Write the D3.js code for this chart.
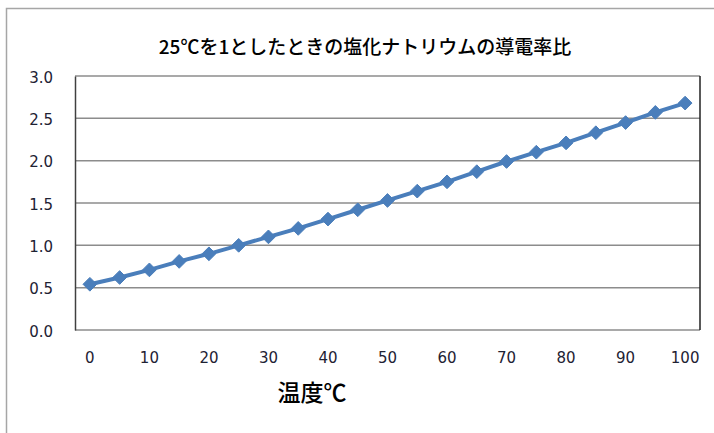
<!DOCTYPE html>
<html>
<head>
<meta charset="utf-8">
<script src="https://cdn.jsdelivr.net/npm/d3@7"></script>
<style>
  body { margin: 0; background: #fff; }
  .tick text { font-family: "DejaVu Sans", sans-serif; font-size: 15px; fill: #1e2233; }
</style>
</head>
<body>
<div id="chart-area"></div>
<script>
// 温度 (℃) と 25℃基準の導電率比
const temps = [0, 5, 10, 15, 20, 25, 30, 35, 40, 45, 50, 55, 60, 65, 70, 75, 80, 85, 90, 95, 100];
const ratios = [0.54, 0.62, 0.71, 0.81, 0.90, 1.00, 1.10, 1.20, 1.31, 1.42, 1.53, 1.64, 1.75, 1.87, 1.99, 2.10, 2.21, 2.33, 2.45, 2.57, 2.68];
const yTicks = [0, 0.5, 1.0, 1.5, 2.0, 2.5, 3.0];
const xTickLabels = [0, 10, 20, 30, 40, 50, 60, 70, 80, 90, 100];

const W = 714, H = 433;
const MARGIN = { LEFT: 75, RIGHT: 14, TOP: 76, BOTTOM: 103 };
const WIDTH = W - MARGIN.LEFT - MARGIN.RIGHT;
const HEIGHT = H - MARGIN.TOP - MARGIN.BOTTOM;
const data = temps.map((t, i) => ({ t: t, v: ratios[i] }));

const svg = d3.select("#chart-area").append("svg")
  .attr("width", W)
  .attr("height", H)

// chart frame (only left/top edges visible)
svg.append("rect")
  .attr("x", 6.5).attr("y", 8.5)
  .attr("width", 800).attr("height", 600)
  .attr("fill", "none")
  .attr("stroke", "#a6a6a6")
  .attr("stroke-width", 1.5)

svg.append("text")
  .attr("x", 365).attr("y", 54)
  .attr("text-anchor", "middle")
  .attr("font-family", "'Noto Sans CJK JP', sans-serif")
  .attr("font-size", 19)
  .attr("font-weight", 500)
  .attr("fill", "#000")
  .text("25℃を1としたときの塩化ナトリウムの導電率比")

const g = svg.append("g")
  .attr("transform", `translate(${MARGIN.LEFT}, ${MARGIN.TOP})`)

const x = d3.scaleBand()
  .domain(temps)
  .range([0, WIDTH])

const y = d3.scaleLinear()
  .domain([0, 3])
  .range([HEIGHT, 0])

// gridlines
g.append("g")
  .selectAll("line").data(yTicks)
  .enter().append("line")
    .attr("x1", 0).attr("x2", WIDTH)
    .attr("y1", d => y(d)).attr("y2", d => y(d))
    .attr("stroke", "#8c8c8c")
    .attr("stroke-width", 1.5)

// right edge of plot area
g.append("line")
  .attr("x1", WIDTH).attr("x2", WIDTH)
  .attr("y1", 0).attr("y2", HEIGHT)
  .attr("stroke", "#222")
  .attr("stroke-width", 1.5)

const leftAxis = d3.axisLeft(y)
  .tickValues(yTicks)
  .tickFormat(d3.format(".1f"))
  .tickSize(0)
  .tickPadding(22)
g.append("g")
  .attr("class", "left axis")
  .call(leftAxis)
  .call(a => a.select(".domain").attr("stroke", "#404040").attr("stroke-width", 1.5))
  .selectAll("text").attr("dy", "0.4em")

const bottomAxis = d3.axisBottom(x)
  .tickValues(xTickLabels)
  .tickSize(0)
  .tickPadding(22)
g.append("g")
  .attr("transform", `translate(0, ${HEIGHT})`)
  .call(bottomAxis)
  .call(a => a.select(".domain").remove())

svg.append("text")
  .attr("x", 312).attr("y", 401)
  .attr("text-anchor", "middle")
  .attr("font-family", "'Noto Sans CJK JP', sans-serif")
  .attr("font-size", 23)
  .attr("font-weight", 500)
  .attr("fill", "#000")
  .text("温度℃")

const cx = d => x(d.t) + x.bandwidth() / 2;

const line = d3.line()
  .x(cx)
  .y(d => y(d.v))

g.append("path")
  .datum(data)
  .attr("fill", "none")
  .attr("stroke", "#4a7ebb")
  .attr("stroke-width", 4)
  .attr("d", line)

const diamond = d3.symbol().type(d3.symbolDiamond2).size(120);
g.selectAll(".marker").data(data)
  .enter().append("path")
    .attr("class", "marker")
    .attr("transform", d => `translate(${cx(d)}, ${y(d.v)})`)
    .attr("d", diamond)
    .attr("fill", "#4a7ebb")
    .attr("stroke", "#4a7ebb")
    .attr("stroke-width", 1)
</script>
</body>
</html>
